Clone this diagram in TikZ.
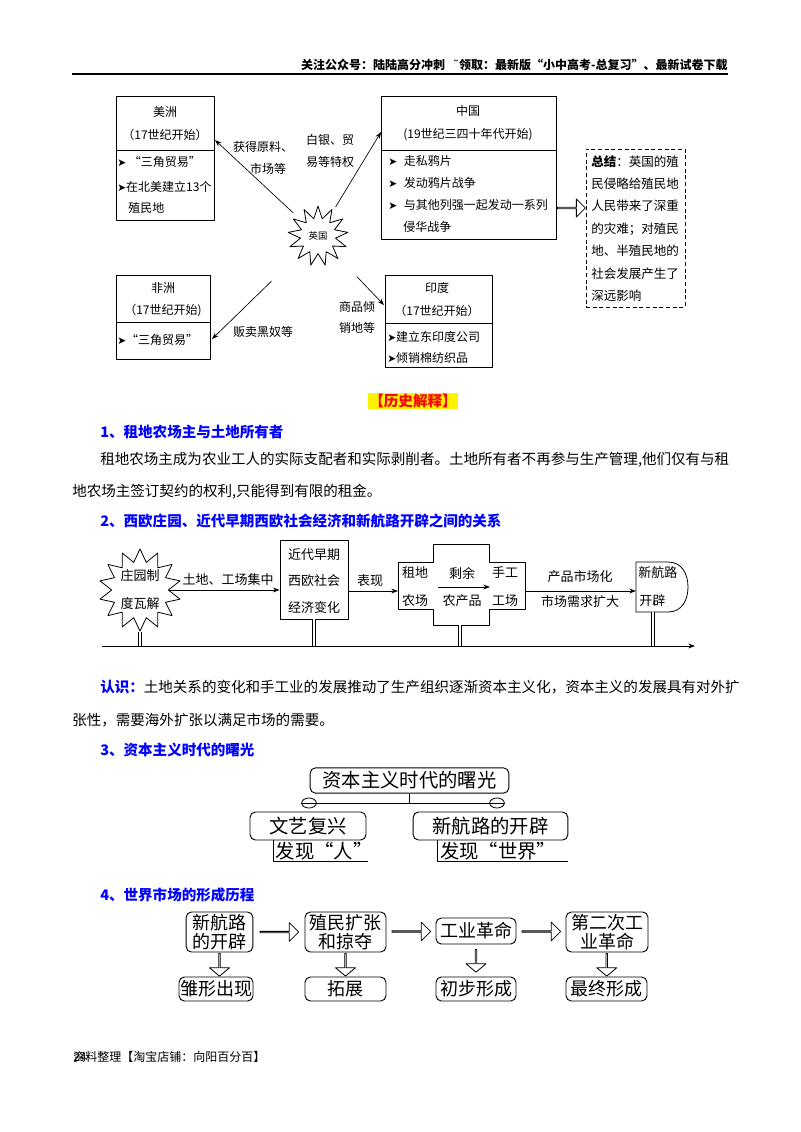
\documentclass[tikz,border=0pt]{standalone}
\usepackage{fontspec}
\setmainfont{Noto Sans CJK SC}
\newfontfamily\fuhao{DejaVu Sans}
\usetikzlibrary{shapes.geometric, shapes.arrows, arrows.meta, positioning, calc, fit}
\newcommand{\jiantou}{{\fuhao\fontsize{8}{8}\selectfont\char"27A4}}

\begin{document}
\begin{tikzpicture}[x=0.75pt, y=-0.75pt, >={Stealth[length=5pt, width=3.6pt]}, line join=round,
    kuang/.style={draw, line width=0.6pt, inner sep=0pt},
    zi/.style={inner sep=0pt, font=\fontsize{9}{11}\selectfont},
    zi2/.style={inner sep=0pt, font=\fontsize{9.75}{12}\selectfont},
    zheng/.style={inner sep=0pt, anchor=west, font=\fontsize{10.9}{13}\selectfont},
    biaoti/.style={inner sep=0pt, anchor=west, text=blue, font=\bfseries\fontsize{10.9}{13}\selectfont},
    yuan/.style={draw, line width=0.7pt, rounded corners=4pt, inner sep=0pt},
    kong/.style={single arrow, draw, line width=0.6pt, inner sep=0pt, single arrow head extend=4pt, minimum width=14pt},
    shuang/.style={double, double distance=2.2pt, line width=0.5pt}]
\useasboundingbox (0,0) rectangle (800,1132);

% 页眉
\node[inner sep=0pt, anchor=east, font=\bfseries\fontsize{9}{11}\selectfont] (ym) at (728,65) {关注公众号：陆陆高分冲刺\hspace{6pt}{\fuhao\mdseries ˜}领取：最新版“小中高考-总复习”、最新试卷下载};
\coordinate (yml) at (72,74);
\coordinate (ymr) at (728,74);
\draw[line width=1.2pt] (yml) -- (ymr);

% 英国与各殖民地
\node[kuang, fit={(116,96) (214,220)}] (mz) {};
\draw[line width=0.6pt] (116,150) -- (214,150);
\node[zi] (mz1) at (165,112) {美洲};
\node[zi] (mz2) at (165,135) {（17世纪开始）};
\node[zi, anchor=west] (mz3) at (117,162) {\jiantou\ “三角贸易”};
\node[zi, anchor=west] (mz4) at (117,187) {\jiantou 在北美建立13个};
\node[zi, anchor=west] (mz5) at (128,208) {殖民地};

\node[kuang, fit={(381,96) (556,239)}] (zg) {};
\draw[line width=0.6pt] (381,150) -- (556,150);
\node[zi] (zg1) at (468,111) {中国};
\node[zi] (zg2) at (468,135) {(19世纪三四十年代开始)};
\node[zi, anchor=west] (zg3) at (388,161) {\jiantou\hspace{5pt}走私鸦片};
\node[zi, anchor=west] (zg4) at (388,183) {\jiantou\hspace{5pt}发动鸦片战争};
\node[zi, anchor=west] (zg5) at (388,205) {\jiantou\hspace{5pt}与其他列强一起发动一系列};
\node[zi, anchor=west] (zg6) at (403,227) {侵华战争};

\node[kuang, dash pattern=on 3pt off 2pt, fit={(586,149) (685,307)}] (zj) {};
\node[inner sep=0pt, anchor=north west, align=left, font=\fontsize{9.4}{16.8}\selectfont] (zjwz) at (591,155) {\textbf{总结}：英国的殖\\民侵略给殖民地\\人民带来了深重\\的灾难；对殖民\\地、半殖民地的\\社会发展产生了\\深远影响};
\node[kong, minimum height=21pt, minimum width=13.5pt, single arrow head extend=3.5pt] (jt0) at (571,208) {};

\node[star, star points=13, star point ratio=1.7, draw, line width=0.6pt, inner sep=1pt, minimum size=45pt, font=\fontsize{7}{8}\selectfont] (yg) at (318,236) {英国};

\node[kuang, fit={(116,275) (210,359)}] (fz) {};
\draw[line width=0.6pt] (116,322) -- (210,322);
\node[zi] (fz1) at (163,288) {非洲};
\node[zi] (fz2) at (163,311) {（17世纪开始)};
\node[zi, anchor=west] (fz3) at (117,340) {\jiantou“三角贸易”};

\node[kuang, fit={(385,275) (492,367)}] (yd) {};
\draw[line width=0.6pt] (385,323) -- (492,323);
\node[zi] (yd1) at (437,288) {印度};
\node[zi] (yd2) at (437,311) {（17世纪开始）};
\node[zi, anchor=west] (yd3) at (387,337) {\jiantou 建立东印度公司};
\node[zi, anchor=west] (yd4) at (387,358) {\jiantou 倾销棉纺织品};

\coordinate (mzr) at (215,140);
\coordinate (zgl) at (381,132);
\coordinate (fzr) at (212,339);
\coordinate (ydl) at (384,305);
\draw[->, line width=0.5pt] ($(yg)!0.24!(mzr)$) -- (mzr);
\draw[->, line width=0.5pt] ($(yg)!0.28!(zgl)$) -- (zgl);
\draw[->, line width=0.5pt] ($(yg)!0.44!(fzr)$) -- (fzr);
\draw[->, line width=0.5pt] ($(yg)!0.59!(ydl)$) -- (ydl);
\node[zi] (l1) at (263,147) {获得原料、};
\node[zi] (l2) at (268,169) {市场等};
\node[zi] (l3) at (330,140) {白银、贸};
\node[zi] (l4) at (330,162) {易等特权};
\node[zi] (l5) at (263,332) {贩卖黑奴等};
\node[zi] (l6) at (357,307) {商品倾};
\node[zi] (l7) at (357,328) {销地等};

% 历史解释
\node[inner sep=1pt, fill=yellow, text=red, font=\bfseries\fontsize{10.9}{13}\selectfont] (lsjs) at (413,401) {【历史解释】};
\node[biaoti] (bt1) at (100,432) {1、租地农场主与土地所有者};
\node[zheng] (zw1) at (100,460) {租地农场主成为农业工人的实际支配者和实际剥削者。土地所有者不再参与生产管理,他们仅有与租};
\node[zheng] (zw2) at (72,492) {地农场主签订契约的权利,只能得到有限的租金。};
\node[biaoti] (bt2) at (100,521) {2、西欧庄园、近代早期西欧社会经济和新航路开辟之间的关系};

% 庄园 -> 新航路
\node[star, star points=14, star point ratio=1.45, draw, line width=0.6pt, inner sep=0pt, align=center, font=\fontsize{9.75}{21}\selectfont] (zy) at (140,590) {庄园制\\度瓦解};
\node[kuang, fit={(280,540) (348,619)}] (bh) {};
\node[zi2, align=center, font=\fontsize{9.75}{20}\selectfont] (bhwz) at (314,581) {近代早期\\西欧社会\\经济变化};
\draw[line width=0.6pt] (398,562) -- (433,562) -- (433,544) -- (489,544) -- (489,562) -- (525,562) -- (525,609) -- (489,609) -- (489,625) -- (433,625) -- (433,609) -- (398,609) -- cycle;
\coordinate (szl) at (398,591);
\coordinate (szr) at (525,591);
\node[zi2] (sz1) at (415,573) {租地};
\node[zi2] (sz2) at (415,601) {农场};
\node[zi2] (sz3) at (462,573) {剩余};
\node[zi2] (sz4) at (462,601) {农产品};
\node[zi2] (sz5) at (505,573) {手工};
\node[zi2] (sz6) at (505,601) {工场};
\coordinate (sy1) at (438,587);
\coordinate (sy2) at (490,587);
\draw[->, line width=0.5pt] (sy1) -- (sy2);
\draw[line width=0.6pt] (636,562) -- (668,562) .. controls (682,562) and (688,574) .. (688,587) .. controls (688,600) and (682,612) .. (668,612) -- (636,612) -- cycle;
\coordinate (xhl) at (636,591);
\node[zi2, anchor=west] (xh1) at (638,573) {新航路};
\node[zi2, anchor=west] (xh2) at (639,601) {开辟};

\draw[->, line width=0.5pt] (zy.0) -- (zy.0 -| bh.west);
\draw[->, line width=0.5pt] (bh.east |- szl) -- (szl);
\draw[->, line width=0.5pt] (szr) -- (xhl);
\node[zi2] (t1) at (228,580) {土地、工场集中};
\node[zi2] (t2) at (370,581) {表现};
\node[zi2] (t3) at (580,577) {产品市场化};
\node[zi2] (t4) at (580,602) {市场需求扩大};

\coordinate (sj0) at (102,646);
\coordinate (sj1) at (695,646);
\coordinate (szb) at (460,625);
\coordinate (xhb) at (653,612);
\draw[shuang] (zy.south) -- (zy.south |- sj0);
\draw[shuang] (bh.south) -- (bh.south |- sj0);
\draw[shuang] (szb) -- (szb |- sj0);
\draw[shuang] (xhb) -- (xhb |- sj0);
\draw[->, line width=0.6pt] (sj0) -- (sj1);

\node[zheng] (rs1) at (100,687) {\textcolor{blue}{\bfseries 认识：}土地关系的变化和手工业的发展推动了生产组织逐渐资本主义化，资本主义的发展具有对外扩};
\node[zheng] (rs2) at (72,720) {张性，需要海外扩张以满足市场的需要。};
\node[biaoti] (bt3) at (100,750) {3、资本主义时代的曙光};

% 资本主义时代的曙光
\node[yuan, minimum width=149pt, minimum height=19pt, font=\fontsize{14.5}{16}\selectfont] (zb) at (409.5,780.5) {资本主义时代的曙光};
\node[draw, ellipse, minimum width=11pt, minimum height=7.5pt, inner sep=0pt, line width=0.6pt] (ty1) at (309,803) {};
\node[draw, ellipse, minimum width=11pt, minimum height=7.5pt, inner sep=0pt, line width=0.6pt] (ty2) at (497,803) {};
\draw[line width=0.7pt] (zb.south) -- (zb.south |- ty1.center);
\draw[line width=0.7pt] (ty1.west) -- (ty2.east);
\node[yuan, minimum width=87pt, minimum height=21pt, font=\fontsize{14.5}{16}\selectfont] (wy) at (308,826) {文艺复兴};
\node[yuan, minimum width=116pt, minimum height=21pt, font=\fontsize{14.5}{16}\selectfont] (hl) at (490.5,826) {新航路的开辟};
\coordinate (fxa) at (273,861);
\coordinate (fxb) at (368,861);
\coordinate (fxc) at (437,861);
\coordinate (fxd) at (568,861);
\draw[line width=0.7pt] (fxa |- wy.south) -- (fxa) -- (fxb);
\draw[line width=0.7pt] (fxc |- hl.south) -- (fxc) -- (fxd);
\node[inner sep=0pt, font=\fontsize{14.5}{16}\selectfont] (fx1) at (324,851) {发现“人”};
\node[inner sep=0pt, font=\fontsize{14.5}{16}\selectfont] (fx2) at (498,851) {发现“世界”};

% 世界市场的形成历程
\node[biaoti] (bt4) at (100,895) {4、世界市场的形成历程};
\node[yuan, minimum width=50pt, minimum height=30pt, align=center, font=\fontsize{13.5}{14.5}\selectfont] (b1) at (219.5,932) {新航路\\的开辟};
\node[yuan, minimum width=60.75pt, minimum height=30pt, align=center, font=\fontsize{13.5}{14.5}\selectfont] (b2) at (345.5,932) {殖民扩张\\和掠夺};
\node[yuan, minimum width=60pt, minimum height=19.5pt, font=\fontsize{13.5}{14.5}\selectfont] (b3) at (476,931) {工业革命};
\node[yuan, minimum width=61.5pt, minimum height=30pt, align=center, font=\fontsize{13.5}{14.5}\selectfont] (b4) at (607,932) {第二次工\\业革命};
\node[yuan, minimum width=55.5pt, minimum height=18pt, font=\fontsize{13.5}{14.5}\selectfont] (c1) at (216,989) {雏形出现};
\node[yuan, minimum width=60.75pt, minimum height=18pt, font=\fontsize{13.5}{14.5}\selectfont] (c2) at (345.5,989) {拓展};
\node[yuan, minimum width=60pt, minimum height=18pt, font=\fontsize{13.5}{14.5}\selectfont] (c3) at (476,989) {初步形成};
\node[yuan, minimum width=60.75pt, minimum height=18pt, font=\fontsize{13.5}{14.5}\selectfont] (c4) at (606.5,989) {最终形成};
\node[kong, minimum height=29pt] (h1) at ($(b1.east)!0.5!(b2.west)$) {};
\node[kong, minimum height=29pt] (h2) at ($(b2.east)!0.5!(b3.west)$) {};
\node[kong, minimum height=29pt] (h3) at ($(b3.east)!0.5!(b4.west)$) {};
\node[kong, minimum height=17pt, minimum width=15pt, single arrow tip angle=100, shape border rotate=270] (v1) at ($(b1.south)!0.5!(b1.south |- c1.north)$) {};
\node[kong, minimum height=17pt, minimum width=15pt, single arrow tip angle=100, shape border rotate=270] (v2) at ($(b2.south)!0.5!(c2.north)$) {};
\node[kong, minimum height=17pt, minimum width=15pt, single arrow tip angle=100, shape border rotate=270] (v3) at ($(b3.south)!0.5!(c3.north)$) {};
\node[kong, minimum height=17pt, minimum width=15pt, single arrow tip angle=100, shape border rotate=270] (v4) at ($(b4.south)!0.5!(c4.north)$) {};

% 页脚
\node[inner sep=0pt, anchor=west, font=\fontsize{9}{11}\selectfont] (yj) at (73,1057) {资料整理【淘宝店铺：向阳百分百】};
\node[inner sep=0pt, anchor=west, font=\fontsize{9}{11}\selectfont] (yh) at (73,1057) {24};
\end{tikzpicture}
\end{document}
